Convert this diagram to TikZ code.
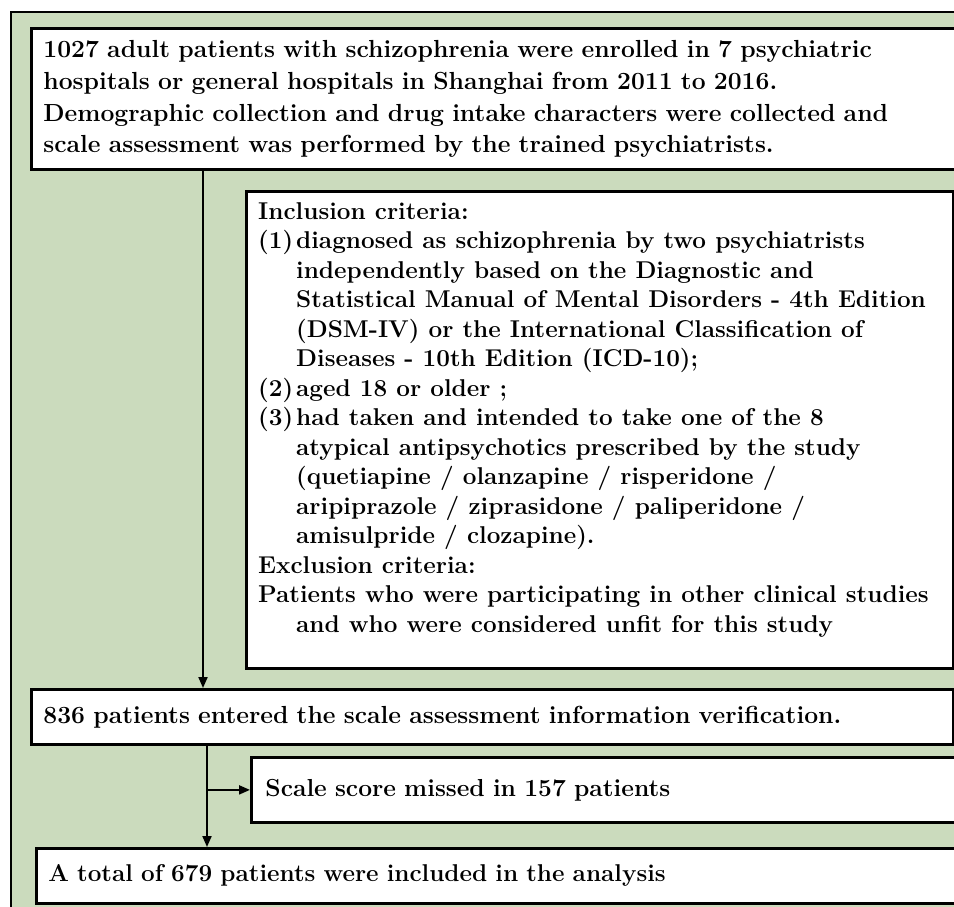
\documentclass[tikz,border=0pt]{standalone}
\usepackage{fontspec}
\usetikzlibrary{arrows.meta}
\definecolor{sage}{RGB}{203,219,189}
\begin{document}
\begin{tikzpicture}[x=1pt,y=-1pt,
  box/.style={draw=black, line width=2.8pt, fill=white, anchor=north west, inner ysep=0pt, align=left,
    font=\fontsize{24.7}{32}\selectfont\bfseries},
  arr/.style={line width=2pt, -{Triangle[length=11pt,width=9pt]}}]
\useasboundingbox (0,0) rectangle (954,907);
\clip (0,0) rectangle (954,907);
\fill[white] (0,0) rectangle (954,907);
\fill[sage] (11,12) rectangle (990,930);
\draw[line width=2pt] (11,930) -- (11,12) -- (990,12);

\node[box, minimum height=141pt, inner xsep=12pt, text width=916pt] (box1) at (30,27)
{1027 adult patients with schizophrenia were enrolled in 7 psychiatric\\
hospitals or general hospitals in Shanghai from 2011 to 2016.\\
Demographic collection and drug intake characters were collected and\\
scale assessment was performed by the trained psychiatrists.};

\node[box, minimum width=707pt, minimum height=477pt] (incl) at (245,190) {};
\node[anchor=north west, align=left, inner sep=0pt,
  font=\fontsize{24.3}{29.5}\selectfont\bfseries] (incltext) at ([xshift=13pt,yshift=-12pt]incl.north west)
{Inclusion criteria:\\
\makebox[38pt][l]{(1)}diagnosed as schizophrenia by two psychiatrists\\
\hspace*{38pt}independently based on the Diagnostic and\\
\hspace*{38pt}Statistical Manual of Mental Disorders - 4th Edition\\
\hspace*{38pt}(DSM-IV) or the International Classification of\\
\hspace*{38pt}Diseases - 10th Edition (ICD-10);\\
\makebox[38pt][l]{(2)}aged 18 or older ;\\
\makebox[38pt][l]{(3)}had taken and intended to take one of the 8\\
\hspace*{38pt}atypical antipsychotics prescribed by the study\\
\hspace*{38pt}(quetiapine / olanzapine / risperidone /\\
\hspace*{38pt}aripiprazole / ziprasidone / paliperidone /\\
\hspace*{38pt}amisulpride / clozapine).\\
Exclusion criteria:\\
Patients who were participating in other clinical studies\\
\hspace*{38pt}and who were considered unfit for this study};

\node[box, minimum height=55pt, inner xsep=12pt, text width=898pt] (b836) at (30,688)
{836 patients entered the scale assessment information verification.};

\node[box, minimum height=65pt, inner xsep=14pt, text width=692pt,
  font=\fontsize{24.6}{32}\selectfont\bfseries] (miss) at (250,756)
{Scale score missed in 157 patients};

\node[box, minimum height=55pt, inner xsep=12pt, text width=911pt,
  font=\fontsize{24.3}{32}\selectfont\bfseries] (final) at (35,847)
{A total of 679 patients were included in the analysis};

\coordinate (jn) at ([xshift=177pt]b836.south west);
\draw[arr] ([xshift=173pt]box1.south west) -- ([xshift=173pt]b836.north west);
\draw[arr] (jn) -- ([xshift=172pt]final.north west);
\draw[arr] (jn |- miss.west) -- (miss.west);
\end{tikzpicture}
\end{document}
